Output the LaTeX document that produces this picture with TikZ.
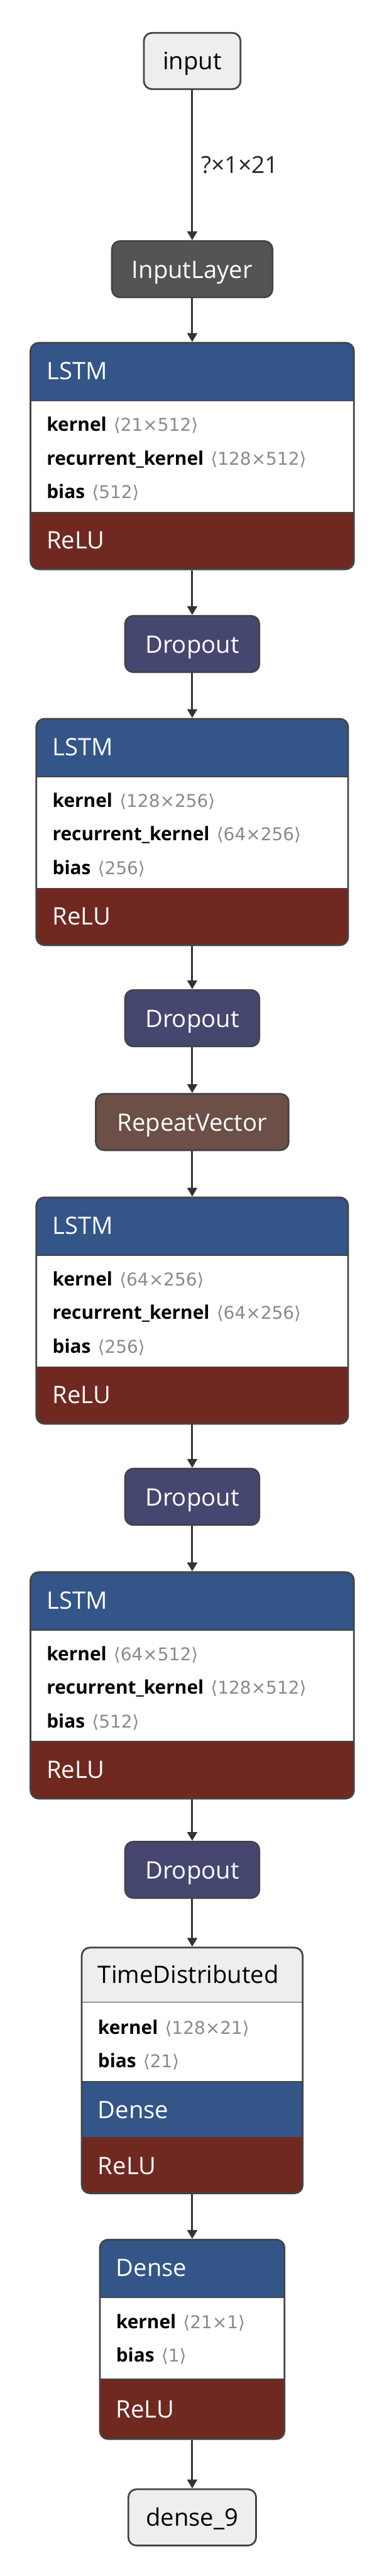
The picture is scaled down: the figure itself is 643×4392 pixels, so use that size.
\documentclass[tikz,border=0pt]{standalone}
\usepackage{fontspec}
\setmainfont{Open Sans}
\newfontfamily\shapefont{DejaVu Sans}
\usetikzlibrary{arrows.meta}

\definecolor{layerblue}{HTML}{335588}
\definecolor{dropblue}{HTML}{454770}
\definecolor{shapebrown}{HTML}{6C4F47}
\definecolor{actred}{HTML}{702921}
\definecolor{inputgray}{HTML}{545454}
\definecolor{termgray}{HTML}{EEEEEE}
\definecolor{valgray}{HTML}{8A8A8A}
\definecolor{rimgray}{HTML}{444444}

\newcommand{\shp}[1]{\hspace{12pt}{\shapefont\mdseries\fontsize{30}{36}\selectfont\color{valgray}⟨#1⟩}}

\tikzset{
  box/.style={draw=rimgray, line width=3pt, rounded corners=14pt, inner sep=0pt},
  small/.style={box, minimum height=96pt, font=\fontsize{41}{48}\selectfont, text height=30pt, text depth=0pt},
  term/.style={small, fill=termgray, text=black},
  sep/.style={draw=rimgray, line width=2pt},
  layerbox/.style n args={4}{box, fill=white, path picture={
      \fill[#1, sharp corners] (path picture bounding box.north west) rectangle ([yshift=-#2]path picture bounding box.north east);
      \fill[#3, sharp corners] (path picture bounding box.south west) rectangle ([yshift=#4]path picture bounding box.south east);
      \draw[sep, sharp corners] ([yshift=-#2]path picture bounding box.north west) -- ([yshift=-#2]path picture bounding box.north east);
      \draw[sep, sharp corners] ([yshift=#4]path picture bounding box.south west) -- ([yshift=#4]path picture bounding box.south east);
  }},
  title/.style={anchor=west, inner sep=0pt, text=white, font=\fontsize{41}{48}\selectfont, text height=30pt, text depth=0pt},
  attr/.style={anchor=west, inner sep=0pt, text=black, font=\fontsize{32}{38}\selectfont\bfseries, text height=23pt, text depth=0pt},
  edge/.style={draw=black!80, line width=3pt, -{Triangle[length=15pt,width=17pt]}},
  dimlabel/.style={anchor=west, inner sep=0pt, xshift=14pt, text=black!85, font=\fontsize{40}{48}\selectfont}
}

\begin{document}
\begin{tikzpicture}[x=1pt, y=-1pt]
  \useasboundingbox (0,0) rectangle (643,4392);

  % small nodes
  \node[term, minimum width=165pt] (input) at (328,104) {input};
  \node[small, fill=inputgray, text=white, minimum width=274pt] (inlayer) at (328,459) {InputLayer};
  \node[small, fill=dropblue, text=white, minimum width=229pt] (drop1) at (328,1098) {Dropout};
  \node[small, fill=dropblue, text=white, minimum width=229pt] (drop2) at (328,1736) {Dropout};
  \node[small, fill=shapebrown, text=white, minimum width=329pt] (repvec) at (328,1913) {RepeatVector};
  \node[small, fill=dropblue, text=white, minimum width=229pt] (drop3) at (328,2552) {Dropout};
  \node[small, fill=dropblue, text=white, minimum width=229pt] (drop4) at (328,3188) {Dropout};
  \node[term, minimum width=218pt] (dense9) at (328,4292) {dense\_9};

  % lstm layers
  \foreach \n/\y/\w/\kk/\rk/\bb in {1/583/552/21×512/128×512/512, 2/1224/532/128×256/64×256/256,
                                    3/2040/532/64×256/64×256/256, 4/2679/552/64×512/128×512/512} {
    \node[layerbox={layerblue}{99pt}{actred}{97pt}, minimum width=\w pt, minimum height=386pt, anchor=north] (lstm\n) at (328,\y) {};
    \node[title] (lstm\n-t) at ([xshift=29pt, yshift=-49pt]lstm\n.north west) {LSTM};
    \node[attr] (lstm\n-k) at ([xshift=29pt, yshift=-141pt]lstm\n.north west) {kernel\shp{\kk}};
    \node[attr] (lstm\n-r) at ([xshift=29pt, yshift=-198pt]lstm\n.north west) {recurrent\_kernel\shp{\rk}};
    \node[attr] (lstm\n-b) at ([xshift=29pt, yshift=-255pt]lstm\n.north west) {bias\shp{\bb}};
    \node[title] (lstm\n-a) at ([xshift=29pt, yshift=-338pt]lstm\n.north west) {ReLU};
  }

  % time distributed wrapper
  \node[box, fill=white, minimum width=377pt, minimum height=419pt, anchor=north, path picture={
      \fill[termgray, sharp corners] (path picture bounding box.north west) rectangle ([yshift=-93pt]path picture bounding box.north east);
      \fill[actred, sharp corners] (path picture bounding box.south west) rectangle ([yshift=96pt]path picture bounding box.south east);
      \fill[layerblue, sharp corners] ([yshift=96pt]path picture bounding box.south west) rectangle ([yshift=190pt]path picture bounding box.south east);
      \draw[sep, sharp corners] ([yshift=-93pt]path picture bounding box.north west) -- ([yshift=-93pt]path picture bounding box.north east);
      \draw[sep, sharp corners] ([yshift=190pt]path picture bounding box.south west) -- ([yshift=190pt]path picture bounding box.south east);
    }] (timedist) at (328,3319) {};
  \node[title, text=black] (timedist-t) at ([xshift=29pt, yshift=-47pt]timedist.north west) {TimeDistributed};
  \node[attr] (timedist-k) at ([xshift=29pt, yshift=-138pt]timedist.north west) {kernel\shp{128×21}};
  \node[attr] (timedist-b) at ([xshift=29pt, yshift=-194pt]timedist.north west) {bias\shp{21}};
  \node[title] (timedist-d) at ([xshift=29pt, yshift=-278pt]timedist.north west) {Dense};
  \node[title] (timedist-a) at ([xshift=29pt, yshift=-373pt]timedist.north west) {ReLU};

  % dense
  \node[layerbox={layerblue}{98pt}{actred}{102pt}, minimum width=315pt, minimum height=340pt, anchor=north] (dense) at (328,3817) {};
  \node[title] (dense-t) at ([xshift=29pt, yshift=-49pt]dense.north west) {Dense};
  \node[attr] (dense-k) at ([xshift=29pt, yshift=-141pt]dense.north west) {kernel\shp{21×1}};
  \node[attr] (dense-b) at ([xshift=29pt, yshift=-198pt]dense.north west) {bias\shp{1}};
  \node[title] (dense-a) at ([xshift=29pt, yshift=-290pt]dense.north west) {ReLU};

  % connectors
  \draw[edge] (input.south) -- node[dimlabel] (input-dim) {?×1×21} (inlayer.north);
  \foreach \a/\b in {inlayer/lstm1, lstm1/drop1, drop1/lstm2, lstm2/drop2, drop2/repvec, repvec/lstm3,
                     lstm3/drop3, drop3/lstm4, lstm4/drop4, drop4/timedist, timedist/dense, dense/dense9}
    \draw[edge] (\a.south) -- (\b.north);
\end{tikzpicture}
\end{document}
